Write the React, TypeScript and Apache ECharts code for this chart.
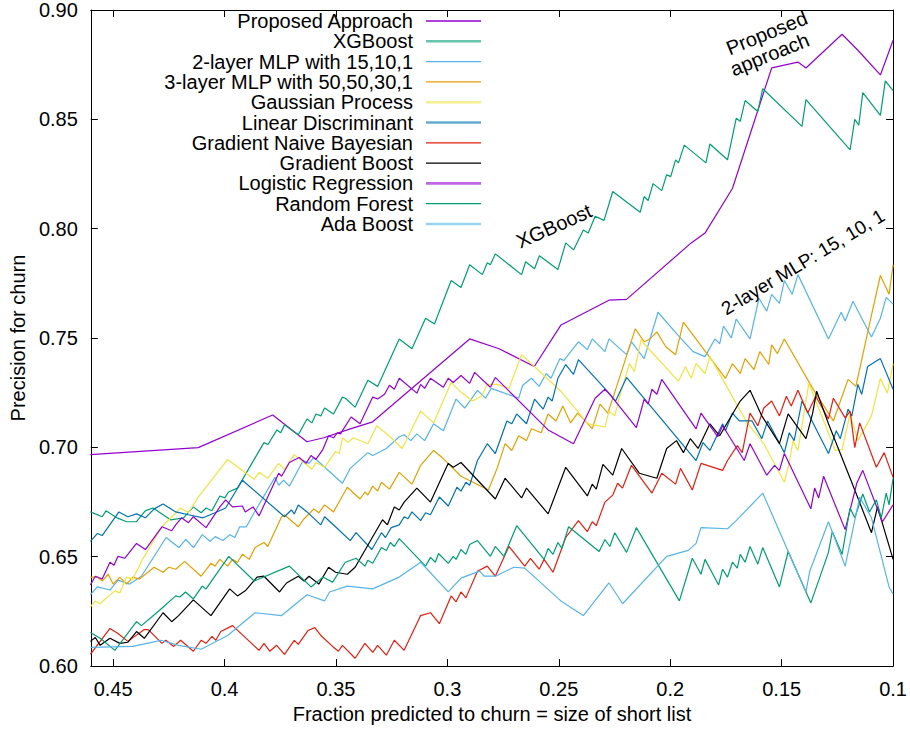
import React, { useEffect, useRef } from "react";
import * as echarts from "echarts";

const FONT = "'Liberation Sans', Arial, Helvetica, sans-serif";

const seriesNames = [
  "Proposed Approach",
  "XGBoost",
  "2-layer MLP with 15,10,1",
  "3-layer MLP with 50,50,30,1",
  "Gaussian Process",
  "Linear Discriminant",
  "Gradient Naive Bayesian",
  "Gradient Boost",
  "Logistic Regression",
  "Random Forest",
  "Ada Boost",
];

const seriesColors = [
  "#9400d3", "#009e73", "#56b4e9", "#e69f00", "#f0e442", "#0072b2",
  "#e51e10", "#000000", "#9400d3", "#009e73", "#56b4e9",
];

// legend samples that look thicker / lighter in the reference
const softSample = [false, true, false, false, true, true, false, false, true, false, true];

const xTicks = [0.1, 0.15, 0.2, 0.25, 0.3, 0.35, 0.4, 0.45];
const yTicks = [0.6, 0.65, 0.7, 0.75, 0.8, 0.85, 0.9];

const proposed = [[0.4602,0.6967],[0.4118,0.6999],[0.3784,0.7148],[0.3630,0.7026],[0.3555,0.7044],[0.3436,0.7085],[0.3335,0.7117],[0.2900,0.7496],[0.2768,0.7451],[0.2610,0.7370],[0.2490,0.7560],[0.2275,0.7673],[0.2196,0.7677],[0.1906,0.7935],[0.1844,0.7980],[0.1721,0.8184],[0.1545,0.8735],[0.1427,0.8762],[0.1391,0.8735],[0.1229,0.8889],[0.1158,0.8816],[0.1057,0.8703],[0.1000,0.8862]];

const xgboost = [[0.4602,0.6705],[0.4549,0.6683],[0.4532,0.6710],[0.4483,0.6678],[0.4439,0.6660],[0.4396,0.6660],[0.4356,0.6710],[0.4321,0.6723],[0.4281,0.6696],[0.4242,0.6669],[0.4184,0.6678],[0.4140,0.6728],[0.4105,0.6701],[0.4083,0.6723],[0.4057,0.6710],[0.4021,0.6778],[0.3999,0.6769],[0.3982,0.6796],[0.3942,0.6814],[0.3823,0.7022],[0.3805,0.7013],[0.3765,0.7080],[0.3748,0.7067],[0.3731,0.7103],[0.3669,0.7058],[0.3630,0.7130],[0.3608,0.7112],[0.3590,0.7153],[0.3568,0.7144],[0.3551,0.7180],[0.3511,0.7153],[0.3471,0.7230],[0.3458,0.7225],[0.3414,0.7184],[0.3357,0.7307],[0.3313,0.7279],[0.3216,0.7496],[0.3159,0.7451],[0.3098,0.7591],[0.3058,0.7564],[0.2983,0.7763],[0.2939,0.7731],[0.2900,0.7835],[0.2843,0.7790],[0.2821,0.7844],[0.2807,0.7835],[0.2785,0.7885],[0.2667,0.7790],[0.2649,0.7849],[0.2609,0.7817],[0.2587,0.7876],[0.2504,0.7813],[0.2469,0.7935],[0.2434,0.7903],[0.2390,0.7994],[0.2368,0.7980],[0.2337,0.8057],[0.2297,0.8038],[0.2258,0.8170],[0.2135,0.8075],[0.2117,0.8147],[0.2099,0.8129],[0.2077,0.8206],[0.2038,0.8174],[0.2016,0.8247],[0.1998,0.8238],[0.1976,0.8315],[0.1963,0.8301],[0.1937,0.8382],[0.1840,0.8301],[0.1822,0.8387],[0.1743,0.8315],[0.1704,0.8505],[0.1686,0.8491],[0.1664,0.8586],[0.1607,0.8536],[0.1585,0.8640],[0.1409,0.8468],[0.1391,0.8590],[0.1193,0.8360],[0.1172,0.8500],[0.1154,0.8473],[0.1136,0.8622],[0.1057,0.8518],[0.1035,0.8676],[0.1000,0.8631]];

const mlp2 = [[0.4602,0.6326],[0.4571,0.6362],[0.4513,0.6348],[0.4478,0.6393],[0.4426,0.6375],[0.4373,0.6411],[0.4262,0.6588],[0.4205,0.6542],[0.4174,0.6579],[0.4139,0.6542],[0.4100,0.6601],[0.4064,0.6570],[0.4042,0.6592],[0.4007,0.6574],[0.3976,0.6601],[0.3954,0.6588],[0.3932,0.6637],[0.3902,0.6637],[0.3867,0.6701],[0.3774,0.6863],[0.3757,0.6827],[0.3735,0.6850],[0.3709,0.6823],[0.3647,0.6940],[0.3621,0.6927],[0.3599,0.6954],[0.3471,0.6836],[0.3436,0.6904],[0.3357,0.6976],[0.3335,0.6963],[0.3274,0.6995],[0.3216,0.7049],[0.3194,0.7058],[0.3164,0.7031],[0.3137,0.7062],[0.3102,0.7031],[0.3062,0.7108],[0.3018,0.7076],[0.2961,0.7221],[0.2922,0.7180],[0.2865,0.7261],[0.2829,0.7225],[0.2803,0.7270],[0.2680,0.7225],[0.2662,0.7284],[0.2623,0.7316],[0.2588,0.7279],[0.2557,0.7338],[0.2535,0.7316],[0.2495,0.7406],[0.2478,0.7397],[0.2412,0.7483],[0.2372,0.7447],[0.2350,0.7496],[0.2293,0.7438],[0.2275,0.7496],[0.2196,0.7424],[0.2174,0.7483],[0.2117,0.7406],[0.2055,0.7618],[0.1963,0.7510],[0.1897,0.7438],[0.1844,0.7415],[0.1800,0.7496],[0.1778,0.7474],[0.1761,0.7555],[0.1726,0.7501],[0.1704,0.7587],[0.1642,0.7496],[0.1602,0.7682],[0.1567,0.7623],[0.1545,0.7700],[0.1510,0.7659],[0.1488,0.7763],[0.1453,0.7700],[0.1427,0.7790],[0.1290,0.7496],[0.1233,0.7618],[0.1215,0.7578],[0.1180,0.7668],[0.1097,0.7505],[0.1057,0.7591],[0.1031,0.7686],[0.1000,0.7655]];

const mlp3 = [[0.4602,0.6407],[0.4571,0.6407],[0.4549,0.6389],[0.4522,0.6420],[0.4500,0.6375],[0.4470,0.6407],[0.4439,0.6375],[0.4412,0.6407],[0.4382,0.6398],[0.4355,0.6420],[0.4316,0.6452],[0.4276,0.6429],[0.4250,0.6452],[0.4219,0.6443],[0.4179,0.6479],[0.4105,0.6411],[0.4061,0.6470],[0.4043,0.6457],[0.4021,0.6488],[0.3986,0.6457],[0.3964,0.6488],[0.3942,0.6474],[0.3920,0.6511],[0.3889,0.6488],[0.3863,0.6542],[0.3823,0.6565],[0.3806,0.6547],[0.3744,0.6683],[0.3731,0.6692],[0.3669,0.6637],[0.3647,0.6669],[0.3599,0.6719],[0.3577,0.6701],[0.3551,0.6737],[0.3511,0.6705],[0.3449,0.6818],[0.3392,0.6764],[0.3370,0.6796],[0.3357,0.6782],[0.3335,0.6823],[0.3313,0.6800],[0.3296,0.6841],[0.3260,0.6809],[0.3216,0.6886],[0.3159,0.6832],[0.3120,0.6918],[0.3062,0.6986],[0.3018,0.6949],[0.2939,0.6868],[0.2816,0.6805],[0.2777,0.6904],[0.2741,0.7017],[0.2711,0.6986],[0.2680,0.7053],[0.2645,0.7031],[0.2623,0.7085],[0.2579,0.7067],[0.2548,0.7153],[0.2513,0.7121],[0.2482,0.7189],[0.2447,0.7112],[0.2416,0.7157],[0.2381,0.7121],[0.2350,0.7085],[0.2315,0.7198],[0.2280,0.7157],[0.2236,0.7293],[0.2157,0.7542],[0.2117,0.7483],[0.2091,0.7496],[0.2060,0.7528],[0.2020,0.7460],[0.1976,0.7424],[0.1941,0.7573],[0.1752,0.7316],[0.1721,0.7383],[0.1686,0.7338],[0.1664,0.7406],[0.1624,0.7356],[0.1598,0.7438],[0.1558,0.7379],[0.1545,0.7469],[0.1519,0.7429],[0.1488,0.7496],[0.1361,0.7270],[0.1268,0.7121],[0.1202,0.7311],[0.1167,0.7279],[0.1097,0.7605],[0.1057,0.7786],[0.1018,0.7700],[0.1000,0.7835]];

const gaussian = [[0.4602,0.6271],[0.4580,0.6298],[0.4558,0.6285],[0.4536,0.6307],[0.4518,0.6321],[0.4492,0.6344],[0.4470,0.6335],[0.4439,0.6407],[0.4412,0.6398],[0.4368,0.6488],[0.4281,0.6637],[0.4197,0.6723],[0.4162,0.6701],[0.4118,0.6773],[0.3986,0.6945],[0.3867,0.6854],[0.3845,0.6886],[0.3806,0.6859],[0.3757,0.6927],[0.3731,0.6900],[0.3687,0.6967],[0.3608,0.6900],[0.3590,0.6931],[0.3551,0.6909],[0.3502,0.6981],[0.3485,0.6972],[0.3471,0.7044],[0.3445,0.7022],[0.3423,0.7044],[0.3357,0.7017],[0.3317,0.7099],[0.3252,0.7044],[0.3203,0.6995],[0.3120,0.7166],[0.3062,0.7112],[0.2983,0.7297],[0.2944,0.7257],[0.2887,0.7212],[0.2847,0.7234],[0.2821,0.7288],[0.2777,0.7288],[0.2724,0.7270],[0.2667,0.7424],[0.2491,0.7257],[0.2416,0.7166],[0.2372,0.7108],[0.2293,0.7094],[0.2275,0.7166],[0.2249,0.7144],[0.2227,0.7234],[0.2183,0.7383],[0.2161,0.7347],[0.2130,0.7496],[0.2117,0.7474],[0.1963,0.7302],[0.1932,0.7370],[0.1906,0.7316],[0.1884,0.7383],[0.1844,0.7338],[0.1822,0.7415],[0.1655,0.7112],[0.1580,0.7017],[0.1488,0.6841],[0.1466,0.6931],[0.1449,0.7031],[0.1427,0.6986],[0.1391,0.7212],[0.1378,0.7293],[0.1259,0.6986],[0.1229,0.6990],[0.1193,0.7153],[0.1158,0.7031],[0.1097,0.7144],[0.1057,0.7316],[0.1026,0.7248],[0.1000,0.7383]];

const linearDisc = [[0.4602,0.6570],[0.4571,0.6606],[0.4549,0.6597],[0.4474,0.6705],[0.4434,0.6683],[0.4395,0.6696],[0.4355,0.6678],[0.4316,0.6719],[0.4276,0.6741],[0.4219,0.6705],[0.4162,0.6692],[0.4096,0.6678],[0.4043,0.6701],[0.3995,0.6723],[0.3920,0.6850],[0.3731,0.6683],[0.3700,0.6714],[0.3687,0.6696],[0.3669,0.6737],[0.3630,0.6705],[0.3568,0.6646],[0.3551,0.6683],[0.3502,0.6637],[0.3436,0.6574],[0.3410,0.6610],[0.3339,0.6533],[0.3296,0.6610],[0.3278,0.6588],[0.3252,0.6633],[0.3216,0.6646],[0.3194,0.6683],[0.3177,0.6674],[0.3159,0.6705],[0.3120,0.6665],[0.3098,0.6701],[0.3076,0.6692],[0.3036,0.6773],[0.2996,0.6732],[0.2957,0.6818],[0.2939,0.6800],[0.2917,0.6841],[0.2900,0.6827],[0.2865,0.6940],[0.2821,0.7017],[0.2785,0.6972],[0.2733,0.7121],[0.2711,0.7108],[0.2689,0.7153],[0.2645,0.7108],[0.2609,0.7221],[0.2570,0.7175],[0.2548,0.7230],[0.2530,0.7212],[0.2504,0.7316],[0.2469,0.7379],[0.2434,0.7334],[0.2412,0.7401],[0.2302,0.7279],[0.2245,0.7212],[0.2196,0.7320],[0.1884,0.6940],[0.1853,0.7022],[0.1822,0.6986],[0.1765,0.7108],[0.1752,0.7076],[0.1721,0.7157],[0.1690,0.7121],[0.1633,0.7121],[0.1589,0.7040],[0.1563,0.7121],[0.1488,0.6976],[0.1466,0.7067],[0.1444,0.7031],[0.1409,0.7212],[0.1290,0.6972],[0.1255,0.7076],[0.1237,0.7040],[0.1202,0.7175],[0.1185,0.7144],[0.1158,0.7288],[0.1141,0.7243],[0.1114,0.7370],[0.1057,0.7406],[0.1000,0.7266]];

const naiveBayes = [[0.4602,0.6054],[0.4514,0.6172],[0.4478,0.6149],[0.4434,0.6113],[0.4360,0.6167],[0.4342,0.6167],[0.4281,0.6104],[0.4263,0.6118],[0.4228,0.6090],[0.4197,0.6118],[0.4140,0.6068],[0.4105,0.6118],[0.4083,0.6104],[0.4056,0.6136],[0.4039,0.6118],[0.4017,0.6158],[0.3964,0.6185],[0.3845,0.6072],[0.3823,0.6104],[0.3797,0.6068],[0.3766,0.6095],[0.3731,0.6054],[0.3687,0.6118],[0.3669,0.6099],[0.3625,0.6163],[0.3595,0.6176],[0.3568,0.6140],[0.3515,0.6090],[0.3489,0.6068],[0.3471,0.6095],[0.3414,0.6036],[0.3370,0.6104],[0.3335,0.6063],[0.3313,0.6095],[0.3274,0.6050],[0.3238,0.6118],[0.3194,0.6072],[0.3120,0.6231],[0.3076,0.6244],[0.3036,0.6194],[0.2983,0.6321],[0.2961,0.6294],[0.2939,0.6339],[0.2917,0.6312],[0.2865,0.6434],[0.2821,0.6457],[0.2785,0.6411],[0.2724,0.6547],[0.2653,0.6457],[0.2627,0.6493],[0.2588,0.6443],[0.2566,0.6488],[0.2526,0.6429],[0.2469,0.6588],[0.2412,0.6665],[0.2372,0.6615],[0.2350,0.6660],[0.2332,0.6642],[0.2293,0.6750],[0.2258,0.6782],[0.2236,0.6836],[0.2214,0.6814],[0.2174,0.6918],[0.2082,0.6791],[0.2038,0.6882],[0.1976,0.6832],[0.1954,0.6904],[0.1901,0.6805],[0.1862,0.6927],[0.1765,0.6895],[0.1743,0.6940],[0.1699,0.7008],[0.1677,0.6976],[0.1642,0.7157],[0.1607,0.7099],[0.1580,0.7180],[0.1545,0.7212],[0.1510,0.7144],[0.1479,0.7234],[0.1457,0.7189],[0.1427,0.7261],[0.1383,0.7157],[0.1347,0.7234],[0.1290,0.7130],[0.1268,0.7225],[0.1215,0.7135],[0.1193,0.7166],[0.1172,0.6999],[0.1150,0.7112],[0.1075,0.6909],[0.1040,0.6976],[0.1000,0.6863]];

const gradBoost = [[0.4602,0.6113],[0.4580,0.6131],[0.4558,0.6095],[0.4514,0.6127],[0.4470,0.6104],[0.4434,0.6109],[0.4395,0.6158],[0.4360,0.6127],[0.4276,0.6244],[0.4237,0.6203],[0.4206,0.6231],[0.4140,0.6303],[0.4061,0.6231],[0.3977,0.6353],[0.3942,0.6321],[0.3907,0.6344],[0.3854,0.6407],[0.3823,0.6411],[0.3753,0.6339],[0.3722,0.6380],[0.3669,0.6411],[0.3643,0.6389],[0.3621,0.6411],[0.3577,0.6375],[0.3533,0.6452],[0.3502,0.6429],[0.3449,0.6420],[0.3414,0.6452],[0.3291,0.6669],[0.3269,0.6646],[0.3238,0.6728],[0.3216,0.6714],[0.3194,0.6750],[0.3137,0.6814],[0.3076,0.6750],[0.2996,0.6927],[0.2974,0.6909],[0.2939,0.6931],[0.2785,0.6764],[0.2741,0.6859],[0.2667,0.6769],[0.2645,0.6814],[0.2548,0.6696],[0.2469,0.6909],[0.2372,0.6778],[0.2350,0.6832],[0.2332,0.6809],[0.2302,0.6922],[0.2258,0.6873],[0.2218,0.6995],[0.2139,0.6882],[0.2060,0.6859],[0.2016,0.6995],[0.1972,0.7031],[0.1941,0.6976],[0.1910,0.7040],[0.1875,0.6995],[0.1822,0.7108],[0.1778,0.7053],[0.1752,0.7099],[0.1686,0.7212],[0.1642,0.7261],[0.1589,0.7144],[0.1510,0.7017],[0.1471,0.7153],[0.1391,0.7040],[0.1361,0.7157],[0.1343,0.7257],[0.1290,0.7108],[0.1172,0.6805],[0.1097,0.6610],[0.1070,0.6728],[0.1000,0.6488]];

const logistic = [[0.4602,0.6371],[0.4580,0.6411],[0.4549,0.6398],[0.4514,0.6475],[0.4496,0.6461],[0.4478,0.6502],[0.4448,0.6493],[0.4395,0.6561],[0.4355,0.6533],[0.4281,0.6637],[0.4237,0.6619],[0.4219,0.6646],[0.4193,0.6678],[0.4162,0.6656],[0.4140,0.6683],[0.4083,0.6633],[0.4021,0.6728],[0.3995,0.6760],[0.3964,0.6728],[0.3920,0.6732],[0.3907,0.6705],[0.3872,0.6728],[0.3845,0.6687],[0.3757,0.6882],[0.3744,0.6868],[0.3709,0.6931],[0.3665,0.6954],[0.3634,0.6927],[0.3612,0.6963],[0.3590,0.6945],[0.3559,0.6990],[0.3533,0.7053],[0.3511,0.7044],[0.3493,0.7067],[0.3480,0.7062],[0.3432,0.7139],[0.3392,0.7108],[0.3335,0.7230],[0.3313,0.7221],[0.3282,0.7243],[0.3260,0.7284],[0.3238,0.7266],[0.3216,0.7316],[0.3137,0.7248],[0.3120,0.7288],[0.3102,0.7270],[0.3076,0.7316],[0.3018,0.7275],[0.2996,0.7316],[0.2974,0.7297],[0.2939,0.7329],[0.2900,0.7293],[0.2878,0.7343],[0.2807,0.7275],[0.2785,0.7320],[0.2548,0.7080],[0.2434,0.7017],[0.2337,0.7225],[0.2293,0.7266],[0.2271,0.7243],[0.2152,0.7090],[0.2117,0.7221],[0.2099,0.7198],[0.2082,0.7266],[0.2060,0.7243],[0.2038,0.7311],[0.1884,0.7085],[0.1862,0.7157],[0.1787,0.7049],[0.1765,0.7099],[0.1668,0.6940],[0.1642,0.7017],[0.1567,0.6873],[0.1532,0.6918],[0.1510,0.6895],[0.1488,0.6972],[0.1369,0.6719],[0.1352,0.6814],[0.1334,0.6769],[0.1312,0.6868],[0.1215,0.6624],[0.1163,0.6836],[0.1136,0.6895],[0.1048,0.6660],[0.1000,0.6737]];

const randomForest = [[0.4602,0.6154],[0.4558,0.6127],[0.4492,0.6072],[0.4395,0.6203],[0.4373,0.6185],[0.4294,0.6253],[0.4219,0.6321],[0.4201,0.6316],[0.4175,0.6339],[0.4140,0.6307],[0.4100,0.6366],[0.4083,0.6353],[0.3981,0.6502],[0.3867,0.6389],[0.3709,0.6457],[0.3612,0.6362],[0.3559,0.6407],[0.3515,0.6384],[0.3458,0.6475],[0.3410,0.6493],[0.3370,0.6457],[0.3357,0.6484],[0.3335,0.6470],[0.3296,0.6542],[0.3274,0.6529],[0.3256,0.6565],[0.3238,0.6547],[0.3216,0.6583],[0.3098,0.6457],[0.3076,0.6497],[0.3054,0.6475],[0.3040,0.6515],[0.2996,0.6470],[0.2974,0.6502],[0.2961,0.6488],[0.2939,0.6533],[0.2917,0.6511],[0.2900,0.6556],[0.2865,0.6574],[0.2807,0.6502],[0.2785,0.6547],[0.2746,0.6502],[0.2689,0.6642],[0.2566,0.6488],[0.2548,0.6538],[0.2526,0.6511],[0.2504,0.6565],[0.2486,0.6538],[0.2456,0.6637],[0.2319,0.6524],[0.2293,0.6579],[0.2271,0.6547],[0.2249,0.6610],[0.2196,0.6520],[0.2152,0.6633],[0.1959,0.6298],[0.1901,0.6493],[0.1862,0.6420],[0.1844,0.6488],[0.1783,0.6371],[0.1765,0.6443],[0.1743,0.6407],[0.1721,0.6475],[0.1699,0.6448],[0.1686,0.6511],[0.1664,0.6475],[0.1642,0.6547],[0.1607,0.6466],[0.1585,0.6542],[0.1510,0.6362],[0.1471,0.6524],[0.1369,0.6289],[0.1290,0.6520],[0.1273,0.6615],[0.1229,0.6511],[0.1193,0.6723],[0.1172,0.6678],[0.1136,0.6787],[0.1106,0.6705],[0.1075,0.6760],[0.1053,0.6678],[0.1031,0.6791],[0.1018,0.6737],[0.1000,0.6859]];

const adaBoost = [[0.4602,0.6086],[0.4412,0.6090],[0.4285,0.6118],[0.4206,0.6095],[0.4105,0.6077],[0.3986,0.6140],[0.3863,0.6244],[0.3744,0.6231],[0.3630,0.6326],[0.3551,0.6298],[0.3529,0.6339],[0.3449,0.6366],[0.3335,0.6353],[0.3216,0.6407],[0.3120,0.6475],[0.2996,0.6339],[0.2939,0.6402],[0.2856,0.6434],[0.2834,0.6411],[0.2785,0.6411],[0.2702,0.6452],[0.2653,0.6448],[0.2491,0.6298],[0.2390,0.6231],[0.2275,0.6380],[0.2227,0.6307],[0.2214,0.6285],[0.2016,0.6502],[0.1919,0.6529],[0.1884,0.6561],[0.1862,0.6633],[0.1743,0.6628],[0.1704,0.6665],[0.1585,0.6791],[0.1391,0.6339],[0.1374,0.6434],[0.1290,0.6660],[0.1215,0.6457],[0.1150,0.6773],[0.1097,0.6678],[0.1018,0.6362],[0.1000,0.6330]];

const seriesData = [proposed, xgboost, mlp2, mlp3, gaussian, linearDisc, naiveBayes, gradBoost, logistic, randomForest, adaBoost];

const annotations = [
  { text: "Proposed", x: 727, y: 49, rot: 22, align: "left", size: 20 },
  { text: "approach", x: 731, y: 70, rot: 22, align: "left", size: 20 },
  { text: "XGBoost", x: 554, y: 226, rot: 24, align: "center", size: 20 },
  { text: "2-layer MLP: 15, 10, 1", x: 803, y: 262, rot: 31, align: "center", size: 19 },
];

const fmtX = (v: number) => String(parseFloat(v.toFixed(2)));
const fmtY = (v: number) => v.toFixed(2);

export default function App() {
  const ref = useRef<HTMLDivElement>(null);
  useEffect(() => {
    if (!ref.current) return;
    const chart = echarts.init(ref.current, null, { renderer: "svg" });
    const axisCommon = {
      type: "value" as const,
      axisLine: { show: true, onZero: false, lineStyle: { color: "#000", width: 1 } },
      axisTick: { show: true, inside: true, length: 7, lineStyle: { color: "#000", width: 1 } },
      splitLine: { show: false },
    };
    const labelStyle = { fontSize: 20, color: "#000", fontFamily: FONT };
    const legendGraphics: any[] = [];
    seriesNames.forEach((name, i) => {
      const y = 21 + i * 20.3;
      legendGraphics.push({
        type: "text",
        x: 413,
        y,
        style: {
          text: name,
          align: "right",
          textAlign: "right",
          verticalAlign: "middle",
          textVerticalAlign: "middle",
          fontSize: 20,
          fontFamily: FONT,
          fill: "#000",
        },
        z: 100,
      });
      legendGraphics.push({
        type: "line",
        shape: { x1: 426, y1: y, x2: 481, y2: y },
        style: {
          stroke: seriesColors[i],
          lineWidth: softSample[i] ? 2.6 : 1.3,
          opacity: softSample[i] ? 0.6 : 1,
        },
        z: 100,
      });
    });
    const annoGraphics = annotations.map((a) => ({
      type: "text",
      x: a.x,
      y: a.y,
      rotation: (a.rot * Math.PI) / 180,
      style: {
        text: a.text,
        align: a.align,
        textAlign: a.align,
        verticalAlign: "middle",
        textVerticalAlign: "middle",
        fontSize: a.size,
        fontFamily: FONT,
        fill: "#000",
      },
      z: 100,
    }));

    const option: any = {
      animation: false,
      backgroundColor: "#fff",
      grid: { left: 85, right: 6, top: 5, bottom: 61, containLabel: false },
      xAxis: [
        {
          ...axisCommon,
          position: "bottom",
          min: xTicks[0],
          max: 0.46,
          interval: 0.05,
          inverse: true,
          axisLabel: { ...labelStyle, margin: 13, formatter: fmtX, showMaxLabel: false },
          name: "Fraction predicted to churn = size of short list",
          nameLocation: "middle",
          nameGap: 37,
          nameTextStyle: { ...labelStyle, verticalAlign: "top" },
        },
        {
          ...axisCommon,
          position: "top",
          min: xTicks[0],
          max: 0.46,
          interval: 0.05,
          inverse: true,
          axisLabel: { show: false },
        },
      ],
      yAxis: [
        {
          ...axisCommon,
          position: "left",
          min: yTicks[0],
          max: yTicks[yTicks.length - 1],
          interval: 0.05,
          axisLabel: { ...labelStyle, margin: 13, formatter: fmtY },
          name: "Precision for churn",
          nameLocation: "middle",
          nameGap: 60,
          nameTextStyle: { ...labelStyle },
        },
        {
          ...axisCommon,
          position: "right",
          min: yTicks[0],
          max: yTicks[yTicks.length - 1],
          interval: 0.05,
          axisLabel: { show: false },
        },
      ],
      series: seriesData.map((d, i) => ({
        name: seriesNames[i],
        type: "line",
        data: d,
        xAxisIndex: 0,
        yAxisIndex: 0,
        showSymbol: false,
        symbol: "none",
        silent: true,
        lineStyle: { color: seriesColors[i], width: 1.2 },
        itemStyle: { color: seriesColors[i] },
        z: 2 + i * 0.01,
      })),
      graphic: [...legendGraphics, ...annoGraphics],
    };
    chart.setOption(option);
    return () => chart.dispose();
  }, []);
  return (
    <div
      ref={ref}
      style={{ position: "absolute", left: 0, top: 0, width: 910, height: 729 }}
    />
  );
}
